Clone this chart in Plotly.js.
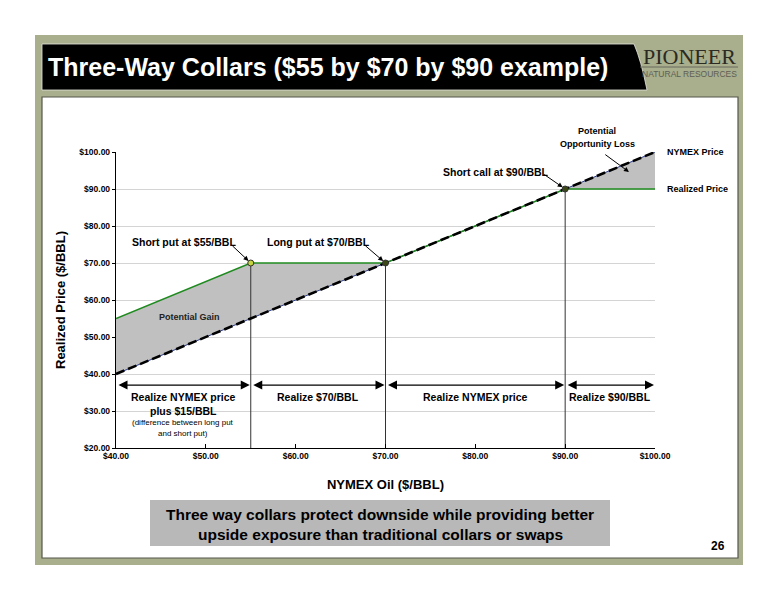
<!DOCTYPE html>
<html>
<head>
<meta charset="utf-8">
<script src="https://cdn.plot.ly/plotly-3.0.1.min.js"></script>
<style>html,body{margin:0;padding:0;background:#fff;}#chart{width:776px;height:600px;}</style>
</head>
<body>
<div id="chart"></div>
<script>
// ---- data ----
const oilPrice      = [40, 55, 70, 90, 100];
const nymexPrice    = [40, 55, 70, 90, 100];
const realizedPrice = [55, 70, 70, 90, 90];
const strikeOil      = [55, 70, 90];
const strikeRealized = [70, 70, 90];
const strikeLabels   = ['Short put at $55/BBL', 'Long put at $70/BBL', 'Short call at $90/BBL'];
const zoneBounds = [[40, 55], [55, 70], [70, 90], [90, 100]];
const zoneLabels = ['Realize NYMEX price', 'Realize $70/BBL', 'Realize NYMEX price', 'Realize $90/BBL'];
const xTicks = [40, 50, 60, 70, 80, 90, 100];
const yTicks = [20, 30, 40, 50, 60, 70, 80, 90, 100];
const xTickText = xTicks.map(v => '$' + v.toFixed(2));
const yTickText = yTicks.map(v => '$' + v.toFixed(2));

// ---- geometry helpers (pixel -> paper) ----
const L = 116, R = 655, T = 152, B = 448;
const px = x => (x - L) / (R - L);
const py = y => (B - y) / (B - T);

const SANS = '"Liberation Sans", Arial, sans-serif';
const SERIF = '"Liberation Serif", "Times New Roman", serif';

// vertical strike lines
const vx = [], vy = [];
strikeOil.forEach((s, i) => { vx.push(s, s, null); vy.push(20, strikeRealized[i], null); });

const traces = [
  {x: oilPrice, y: nymexPrice, mode: 'lines', line: {width: 0, color: 'rgba(0,0,0,0)'}, hoverinfo: 'skip', showlegend: false},
  {x: oilPrice, y: realizedPrice, mode: 'lines', fill: 'tonexty', fillcolor: '#c0c0c0', line: {width: 0, color: 'rgba(0,0,0,0)'}, hoverinfo: 'skip', showlegend: false},
  {x: vx, y: vy, mode: 'lines', line: {color: '#333333', width: 1}, showlegend: false, hoverinfo: 'skip'},
  {x: oilPrice, y: nymexPrice, mode: 'lines', line: {color: '#2a3a8a', width: 1}, showlegend: false, hoverinfo: 'skip'},
  {x: oilPrice, y: realizedPrice, mode: 'lines', name: 'Realized Price', line: {color: '#1f8a1f', width: 1.6}, showlegend: false},
  {x: oilPrice, y: nymexPrice, mode: 'lines', name: 'NYMEX Price', line: {color: '#000000', width: 2.6, dash: '9px,4px'}, showlegend: false},
  {x: strikeOil, y: strikeRealized, mode: 'markers', marker: {size: 6, color: ['#c4d43a', '#3d4a18', '#3d4a18'], line: {color: '#333', width: 1}}, showlegend: false, hoverinfo: 'skip'}
];

const bold = (size, color) => ({family: SANS, size: size, color: color || '#000', weight: 'bold'});
const pAnn = (x, y, text, font, extra) => Object.assign({xref: 'paper', yref: 'paper', x: px(x), y: py(y), text: text,
  showarrow: false, font: font, xanchor: 'center', yanchor: 'middle'}, extra || {});

const ann = [];
// slide title
ann.push(pAnn(46, 67, 'Three-Way Collars ($55 by $70 by $90 example)', bold(25, '#ffffff'), {xanchor: 'left'}));
// logo
ann.push(pAnn(689, 57, 'PIONEER', {family: SERIF, size: 22, color: '#2b2b24'}));
ann.push(pAnn(689, 74, 'NATURAL RESOURCES', {family: SANS, size: 8.5, color: '#5e5e55'}));
// strike labels with arrows
const labelPos = [[47.6, 75.7], [62.5, 75.7], [82.3, 94.6]];
const tailPos = [[52.8, 75.0], [67.6, 75.0], [87.5, 94.2]];
strikeLabels.forEach((t, i) => {
  ann.push({x: labelPos[i][0], y: labelPos[i][1], text: t, showarrow: false, font: bold(10.5)});
  ann.push({x: strikeOil[i], y: strikeRealized[i], ax: tailPos[i][0], ay: tailPos[i][1], axref: 'x', ayref: 'y',
    text: '', showarrow: true, arrowhead: 2, arrowsize: 1, arrowwidth: 1, arrowcolor: '#000', standoff: 3});
});
// opportunity loss
ann.push(pAnn(597, 131, 'Potential', bold(9)));
ann.push(pAnn(597, 144, 'Opportunity Loss', bold(9)));
ann.push({x: 97.1, y: 94.6, ax: 94.3, ay: 99.6, axref: 'x', ayref: 'y', text: '', showarrow: true,
  arrowhead: 2, arrowsize: 1, arrowwidth: 1, arrowcolor: '#000', standoff: 0});
ann.push({x: 48.2, y: 55.4, text: 'Potential Gain', showarrow: false, font: bold(9, '#222')});
// series labels
ann.push(pAnn(665, 152, 'NYMEX Price', bold(9), {xanchor: 'left'}));
ann.push(pAnn(665, 189, 'Realized Price', bold(9), {xanchor: 'left'}));
// zone arrows and labels
zoneBounds.forEach((z, i) => {
  ann.push({x: z[1], y: 37, ax: z[0], ay: 37, axref: 'x', ayref: 'y', text: '', showarrow: true,
    arrowside: 'end+start', arrowhead: 2, arrowsize: 1.5, arrowwidth: 1.2, arrowcolor: '#000', standoff: 1, startstandoff: 1});
  ann.push({x: (z[0] + z[1]) / 2, y: 33.9, text: zoneLabels[i], showarrow: false, font: bold(10.5)});
});
ann.push({x: 47.5, y: 30.1, text: 'plus $15/BBL', showarrow: false, font: bold(10.5)});
ann.push({x: 47.5, y: 26.9, text: '(difference between long put', showarrow: false, font: {family: SANS, size: 8, color: '#000'}});
ann.push({x: 47.5, y: 24.0, text: 'and short put)', showarrow: false, font: {family: SANS, size: 8, color: '#000'}});
// bottom message
ann.push(pAnn(380, 514, 'Three way collars protect downside while providing better', bold(15.5)));
ann.push(pAnn(380, 534, 'upside exposure than traditional collars or swaps', bold(15.5)));
ann.push(pAnn(718, 546, '26', bold(12)));

const shapes = [
  {type: 'rect', xref: 'paper', yref: 'paper', layer: 'below', x0: px(35), x1: px(743), y0: py(35), y1: py(565), fillcolor: '#a9ae8c', line: {width: 0}},
  {type: 'rect', xref: 'paper', yref: 'paper', layer: 'below', x0: px(42), x1: px(738), y0: py(97), y1: py(558), fillcolor: '#ffffff', line: {width: 1.2, color: '#55574a'}},
  {type: 'path', xref: 'paper', yref: 'paper', layer: 'below',
    path: 'M ' + px(42) + ' ' + py(44) + ' L ' + px(634) + ' ' + py(44) + ' Q ' + px(641) + ' ' + py(60) + ' ' + px(647) + ' ' + py(90) + ' L ' + px(42) + ' ' + py(90) + ' Z',
    fillcolor: '#000000', line: {width: 0.8, color: '#e8e8e0'}},
  {type: 'line', xref: 'paper', yref: 'paper', layer: 'below', x0: px(640), x1: px(738), y0: py(67), y1: py(67), line: {width: 1, color: '#6a6a5e'}},
  {type: 'rect', xref: 'paper', yref: 'paper', layer: 'below', x0: px(150), x1: px(610), y0: py(500), y1: py(546), fillcolor: '#b8b8b8', line: {width: 0}}
];

const layout = {
  width: 776, height: 600,
  margin: {l: L, r: 776 - R, t: T, b: 600 - B, pad: 0},
  paper_bgcolor: '#ffffff', plot_bgcolor: 'rgba(0,0,0,0)',
  showlegend: false,
  xaxis: {range: [40, 100], tickvals: xTicks, ticktext: xTickText, showgrid: false, zeroline: false,
    showline: true, linecolor: '#000', linewidth: 1.2, ticks: 'inside', ticklen: 4, tickcolor: '#000',
    tickfont: bold(8.5),
    title: {text: 'NYMEX Oil ($/BBL)', font: bold(13), standoff: 19}},
  yaxis: {range: [20, 100], tickvals: yTicks, ticktext: yTickText, showgrid: true, gridcolor: '#d4d4d4', gridwidth: 1,
    zeroline: false, showline: true, linecolor: '#000', linewidth: 1.2, ticks: 'outside', ticklen: 3, tickcolor: '#000',
    tickfont: bold(8.5),
    title: {text: 'Realized Price ($/BBL)', font: bold(13), standoff: 10}},
  annotations: ann,
  shapes: shapes
};

Plotly.newPlot('chart', traces, layout, {displayModeBar: false, staticPlot: true});
</script>
</body>
</html>
